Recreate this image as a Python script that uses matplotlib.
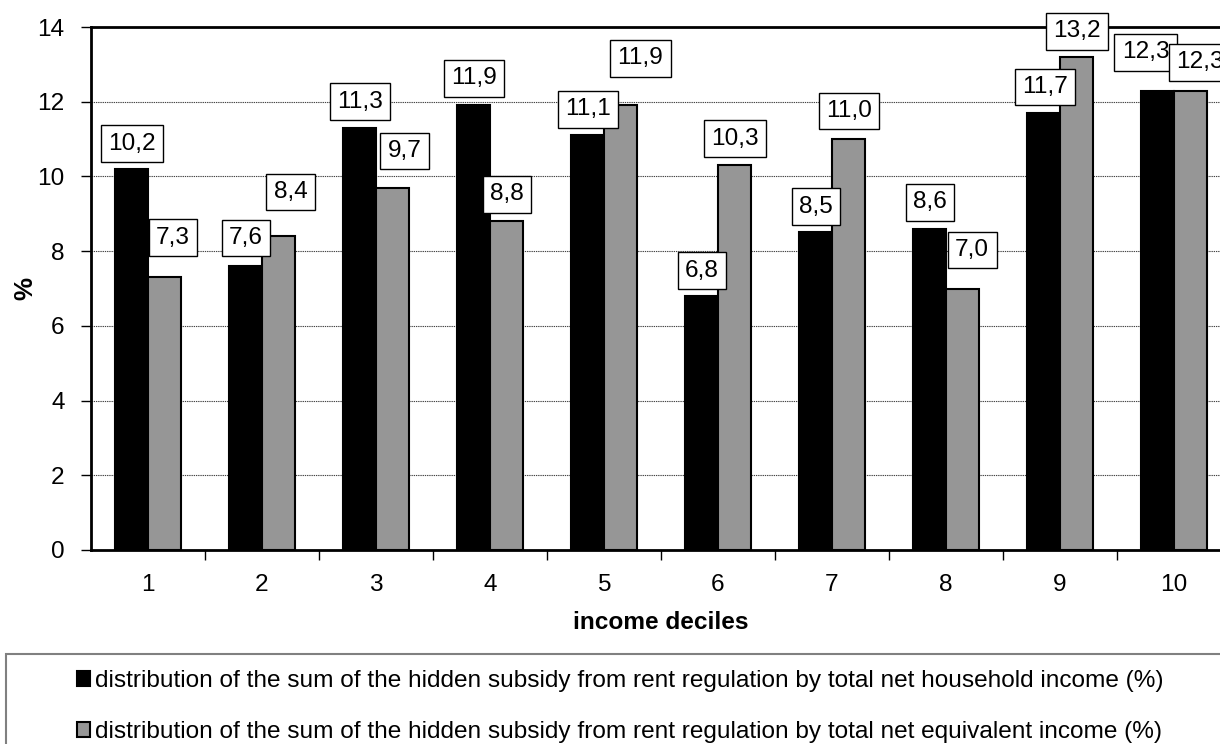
import numpy as np
import matplotlib
matplotlib.use("Agg")
import matplotlib.pyplot as plt
from matplotlib.patches import Rectangle

plt.rcParams['font.family'] = ['Liberation Sans', 'DejaVu Sans']

deciles = [1, 2, 3, 4, 5, 6, 7, 8, 9, 10]
household = [10.2, 7.6, 11.3, 11.9, 11.1, 6.8, 8.5, 8.6, 11.7, 12.3]
equivalent = [7.3, 8.4, 9.7, 8.8, 11.9, 10.3, 11.0, 7.0, 13.2, 12.3]
series_names = [
    "distribution of the sum of the hidden subsidy from rent regulation by total net household income (%)",
    "distribution of the sum of the hidden subsidy from rent regulation by total net equivalent income (%)",
]

# where each value box sits, relative to its decile centre / bar top
hh_dx = [-0.14, -0.14, -0.14, -0.14, -0.14, -0.14, -0.14, -0.14, -0.13, -0.25]
hh_dy = [0.68, 0.75, 0.70, 0.73, 0.70, 0.68, 0.69, 0.71, 0.69, 1.02]
eq_dx = [0.22, 0.25, 0.25, 0.15, 0.32, 0.15, 0.15, 0.23, 0.15, 0.23]
eq_dy = [1.06, 1.18, 0.98, 0.72, 1.26, 0.71, 0.75, 1.03, 0.68, 0.75]

W, H = 1220, 744
fig = plt.figure(figsize=(W / 100, H / 100), dpi=100)
ax = fig.add_axes([91 / W, 1 - 550 / H, 1140 / W, 523 / H])

x = np.array(deciles)
bw = 0.29
b1 = ax.bar(x - bw / 2, household, bw, color='black', edgecolor='black',
            linewidth=1.5, label=series_names[0], zorder=3)
b2 = ax.bar(x + bw / 2, equivalent, bw, color='#969696', edgecolor='black',
            linewidth=1.5, label=series_names[1], zorder=3)

fs = 17.6
box = dict(boxstyle='square,pad=0.3', fc='white', ec='black', lw=1)
for i in range(len(x)):
    ax.text(x[i] + hh_dx[i], household[i] + hh_dy[i],
            f"{household[i]:.1f}".replace('.', ','), ha='center', va='center',
            fontsize=fs, bbox=box, zorder=5, clip_on=False)
    ax.text(x[i] + eq_dx[i], equivalent[i] + eq_dy[i],
            f"{equivalent[i]:.1f}".replace('.', ','), ha='center', va='center',
            fontsize=fs, bbox=box, zorder=5, clip_on=False)

ax.set_xlim(0.5, 10.5)
ax.set_ylim(0, 14)
ax.set_yticks(range(0, 15, 2))
ax.yaxis.grid(True, linestyle=(0, (1.2, 0.8)), color='#444444', linewidth=0.8, zorder=0)
ax.set_axisbelow(True)

ax.set_xticks(np.arange(1.5, 10.5, 1))
ax.set_xticklabels([])
ax.set_xticks(x, minor=True)
ax.set_xticklabels([str(d) for d in deciles], minor=True, fontsize=fs)
ax.tick_params(axis='x', which='major', length=7, width=1, direction='out')
ax.tick_params(axis='x', which='minor', length=0, pad=17)
ax.tick_params(axis='y', length=7, width=1, labelsize=fs, pad=12)

for side in ['left', 'bottom', 'top']:
    ax.spines[side].set_linewidth(2)
ax.spines['right'].set_visible(False)

ax.set_ylabel('%', fontsize=fs + 1, fontweight='bold', labelpad=0)
ax.set_xlabel('income deciles', fontsize=fs, fontweight='bold', labelpad=11)

# legend frame along the bottom
fig.patches.append(Rectangle((6 / W, -0.05), 1.1, 1 - 654 / H + 0.05,
                             transform=fig.transFigure, fill=False,
                             edgecolor='#808080', linewidth=1.5))
fig.legend(handles=[b1, b2], loc='upper left', frameon=False,
           bbox_to_anchor=(77 / W, 1 - 670 / H), fontsize=fs,
           handlelength=0.55, handleheight=0.55, handletextpad=0.2,
           labelspacing=1.2, borderpad=0, borderaxespad=0)

fig.savefig('out.png', dpi=100)
